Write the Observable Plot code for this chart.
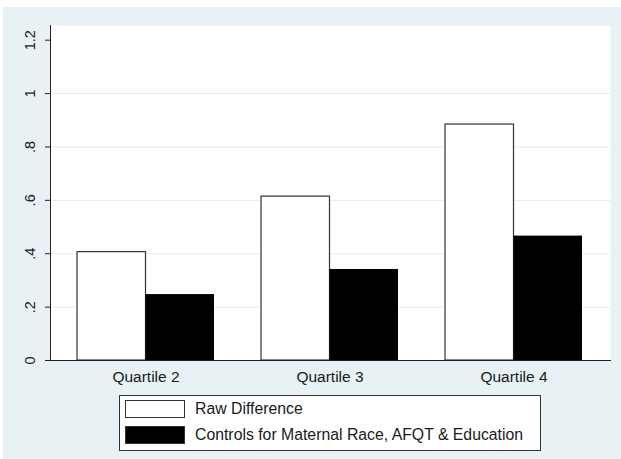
<!DOCTYPE html>
<html><head><meta charset="utf-8">
<script src="https://cdn.jsdelivr.net/npm/d3@7"></script>
<script src="https://cdn.jsdelivr.net/npm/@observablehq/plot@0.6"></script>
<style>
html,body{margin:0;padding:0;background:#fff;}
#panel{position:absolute;left:3px;top:7px;width:618px;height:452px;background:#e8f1f4;font-family:"Liberation Sans",Arial,sans-serif;}
#chart svg{display:block;background:transparent;}
#legend{position:absolute;left:116px;top:388px;width:420px;height:54px;border:1px solid #333;background:#fff;color:#1a1a1a;font-size:15.8px;}
.item{position:absolute;left:5px;height:20px;width:410px;}
.sw{position:absolute;left:0;top:0;width:58px;height:16px;border:1px solid #333;}
.lab{position:absolute;left:70px;top:0px;line-height:18px;white-space:nowrap;}
</style></head>
<body>
<div id="panel"><div id="chart"></div><div id="legend"></div></div>
<script>
const quartiles = ["Quartile 2", "Quartile 3", "Quartile 4"];
const seriesNames = ["Raw Difference", "Controls for Maternal Race, AFQT & Education"];
const rawValues = [0.406, 0.614, 0.884];
const controlValues = [0.247, 0.341, 0.466];
const yTicks = [0, 0.2, 0.4, 0.6, 0.8, 1, 1.2];
const yTickLabels = ["0", ".2", ".4", ".6", ".8", "1", "1.2"];
const gridTicks = [0.2, 0.4, 0.6, 0.8, 1];

const rawData = quartiles.map((q, i) => ({quartile: q, value: rawValues[i]}));
const ctrlData = quartiles.map((q, i) => ({quartile: q, value: controlValues[i]}));
const tickData = yTicks.map((v, i) => ({v, label: yTickLabels[i]}));

const base = {
  width: 618, height: 452,
  marginLeft: 47, marginRight: 11, marginTop: 18, marginBottom: 99,
  style: {background: "transparent", fontFamily: "'Liberation Sans', Arial, sans-serif", color: "#1a1a1a"},
  x: {type: "band", domain: quartiles, paddingInner: 0.255, paddingOuter: 0.149, axis: null},
  y: {domain: [0, 1.255], axis: null}
};
const probe = Plot.plot({...base, marks: [Plot.frame()]});
const half = probe.scale("x").bandwidth / 2;

const chart = Plot.plot({
  ...base,
  marks: [
    Plot.frame({fill: "white", stroke: null}),
    Plot.gridY(gridTicks, {stroke: "#e2ecef", strokeOpacity: 1}),
    Plot.barY(rawData, {x: "quartile", y: "value", fill: "white", stroke: "#333", strokeWidth: 1.2, insetRight: half}),
    Plot.barY(ctrlData, {x: "quartile", y: "value", fill: "black", insetLeft: half}),
    Plot.axisY({ticks: yTicks, tickSize: 5, tickFormat: () => "", stroke: "#222", label: null}),
    Plot.text(tickData, {y: "v", text: "label", frameAnchor: "left", rotate: -90, dx: -20, fontSize: 14.5, textAnchor: "middle", fill: "#1a1a1a"}),
    Plot.frame({anchor: "left", stroke: "#222"}),
    Plot.frame({anchor: "bottom", stroke: "#222"}),
    Plot.axisX({tickSize: 0, tickPadding: 10, fontSize: 15.5, label: null, fill: "#1a1a1a"})
  ]
});
document.getElementById("chart").appendChild(chart);

const legend = document.getElementById("legend");
const fills = ["white", "black"];
seriesNames.forEach((name, i) => {
  const item = document.createElement("div");
  item.className = "item";
  item.style.top = (4 + i * 26) + "px";
  const sw = document.createElement("div");
  sw.className = "sw";
  sw.style.background = fills[i];
  const lab = document.createElement("div");
  lab.className = "lab";
  lab.textContent = name;
  item.appendChild(sw); item.appendChild(lab);
  legend.appendChild(item);
});
</script>
</body></html>
